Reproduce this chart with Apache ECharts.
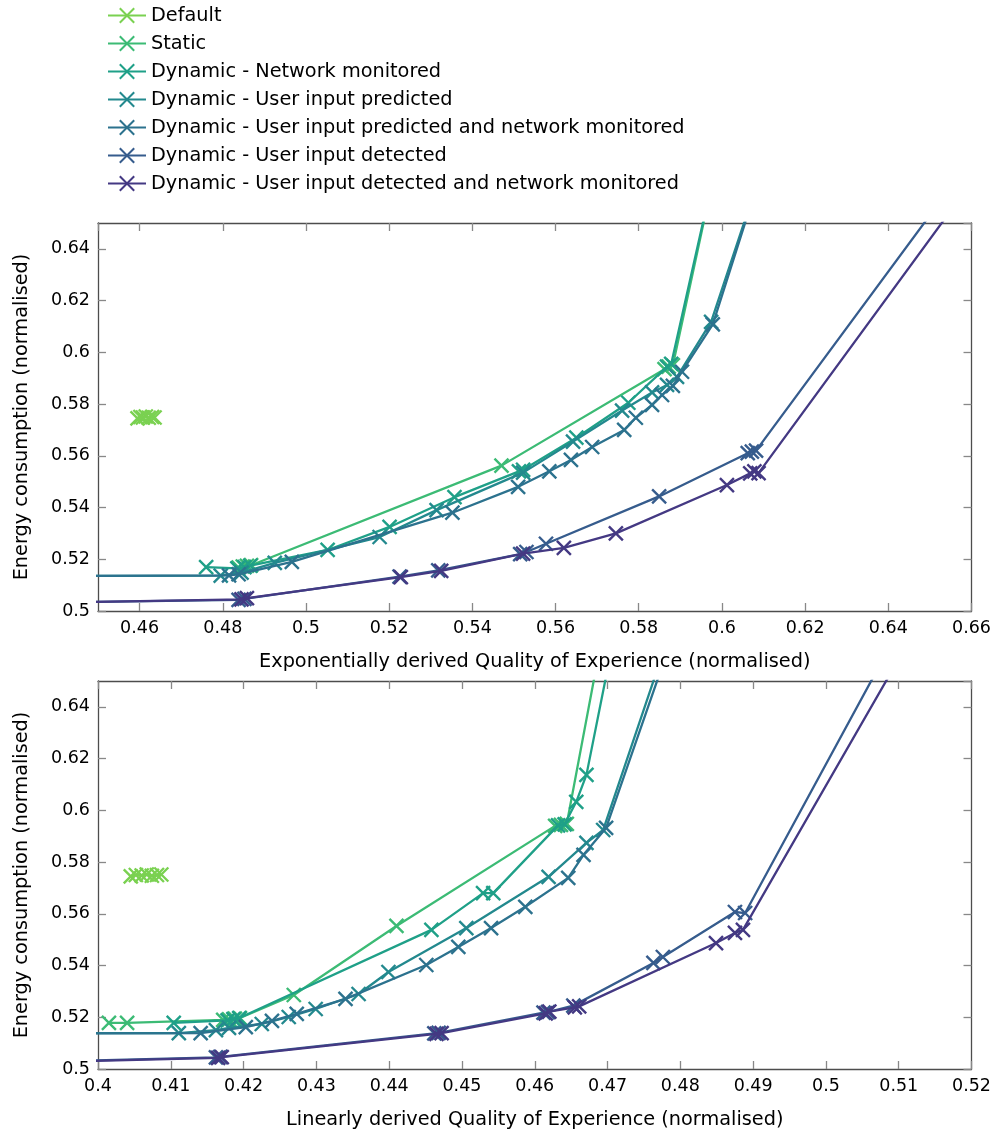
<!DOCTYPE html>
<html>
<head>
<meta charset="utf-8">
<script src="https://cdn.jsdelivr.net/npm/echarts@6/dist/echarts.min.js"></script>
<style>html,body{margin:0;padding:0;background:#fff}#c{width:994px;height:1134px}</style>
</head>
<body>
<div id="c"></div>
<script>
// ---- Data ----
const seriesNames = ['Default','Static','Dynamic - Network monitored','Dynamic - User input predicted',
  'Dynamic - User input predicted and network monitored','Dynamic - User input detected',
  'Dynamic - User input detected and network monitored'];
const seriesColors = ['#7ad151','#3cbb75','#1fa088','#23898e','#2c728e','#365c8d','#443983'];

const xTitleTop = 'Exponentially derived Quality of Experience (normalised)';
const xTitleBottom = 'Linearly derived Quality of Experience (normalised)';
const yTitle = 'Energy consumption (normalised)';

// Top chart: exponentially derived QoE  [qoe, energy]
const defaultExp = [[0.4595,0.5745],[0.4602,0.575],[0.4608,0.5748],[0.4615,0.5752],[0.4622,0.5747],[0.4630,0.575],[0.4636,0.5748]];
const staticExp = [[0.4838,0.5168],[0.4848,0.5172],[0.4858,0.5175],[0.4868,0.5177],[0.547,0.5562],[0.5862,0.5935],[0.5872,0.5945],[0.5882,0.595],[0.5996,0.68]];
const netExp = [[0.476,0.517],[0.4835,0.5165],[0.4852,0.517],[0.4866,0.5175],[0.5052,0.5236],[0.5201,0.5325],[0.5357,0.544],[0.5512,0.554],[0.5522,0.5546],[0.565,0.567],[0.5775,0.5805],[0.5868,0.5945],[0.5878,0.5955],[0.5996,0.68]];
const uipExp = [[0.44,0.5135],[0.4795,0.5137],[0.4845,0.5148],[0.4925,0.5186],[0.5177,0.5286],[0.5314,0.539],[0.5522,0.5535],[0.5642,0.5655],[0.576,0.5775],[0.5832,0.5845],[0.5868,0.5874],[0.5892,0.5905],[0.5974,0.6118],[0.6115,0.68]];
const uipNetExp = [[0.44,0.5135],[0.4815,0.5138],[0.4838,0.5142],[0.4966,0.519],[0.5352,0.538],[0.551,0.548],[0.5585,0.554],[0.5637,0.5584],[0.5688,0.5634],[0.5765,0.570],[0.5793,0.5747],[0.5832,0.5797],[0.5856,0.5835],[0.5882,0.587],[0.5904,0.5925],[0.5978,0.6108],[0.6115,0.68]];
const uidExp = [[0.44,0.5033],[0.4838,0.5043],[0.4852,0.5047],[0.5225,0.5133],[0.5318,0.5157],[0.5515,0.522],[0.553,0.5228],[0.5577,0.526],[0.5849,0.5443],[0.6062,0.561],[0.6072,0.5616],[0.6082,0.562],[0.6624,0.68]];
const uidNetExp = [[0.44,0.5033],[0.4845,0.5045],[0.4858,0.505],[0.5228,0.5131],[0.5325,0.5155],[0.5522,0.5222],[0.562,0.5244],[0.5745,0.530],[0.6012,0.5487],[0.6068,0.5532],[0.6078,0.554],[0.6088,0.5533],[0.6665,0.68]];

// Bottom chart: linearly derived QoE  [qoe, energy]
const defaultLin = [[0.4045,0.5745],[0.4052,0.575],[0.406,0.5748],[0.4067,0.5752],[0.4074,0.5747],[0.4081,0.575],[0.4087,0.5752]];
const staticLin = [[0.4015,0.5178],[0.404,0.5178],[0.4172,0.519],[0.418,0.5192],[0.4188,0.5195],[0.4195,0.5197],[0.4269,0.5286],[0.441,0.5553],[0.4628,0.594],[0.4636,0.5944],[0.4644,0.5948],[0.4701,0.68]];
const netLin = [[0.4104,0.5178],[0.4178,0.5188],[0.4186,0.5193],[0.4194,0.5197],[0.4458,0.5538],[0.4529,0.568],[0.4543,0.568],[0.4632,0.5942],[0.4641,0.5946],[0.4657,0.6033],[0.4671,0.6137],[0.4718,0.68]];
const uipLin = [[0.39,0.5139],[0.4111,0.5139],[0.4162,0.515],[0.418,0.5159],[0.4225,0.5174],[0.4262,0.5201],[0.4299,0.5232],[0.4358,0.529],[0.4399,0.5375],[0.4506,0.5545],[0.4619,0.5743],[0.4671,0.5874],[0.4694,0.5924],[0.4799,0.68]];
const uipNetLin = [[0.39,0.5137],[0.4141,0.5139],[0.4203,0.5162],[0.4239,0.5186],[0.4273,0.5213],[0.434,0.5271],[0.4451,0.5402],[0.4495,0.5472],[0.454,0.5545],[0.4587,0.5627],[0.4646,0.5739],[0.4667,0.5828],[0.4698,0.5932],[0.4805,0.68]];
const uidLin = [[0.39,0.5027],[0.4162,0.5045],[0.4168,0.5047],[0.4462,0.5138],[0.4468,0.514],[0.4612,0.5218],[0.4618,0.522],[0.4653,0.5245],[0.4763,0.541],[0.4776,0.5433],[0.4875,0.5607],[0.4889,0.5603],[0.512,0.68]];
const uidNetLin = [[0.39,0.5025],[0.4165,0.5043],[0.417,0.5046],[0.4465,0.5136],[0.4472,0.5139],[0.4615,0.5215],[0.462,0.5222],[0.4655,0.5238],[0.4661,0.5242],[0.4849,0.5487],[0.4875,0.5526],[0.4886,0.5538],[0.5144,0.68]];

const topData = [defaultExp, staticExp, netExp, uipExp, uipNetExp, uidExp, uidNetExp];
const bottomData = [defaultLin, staticLin, netLin, uipLin, uipNetLin, uidLin, uidNetLin];

// ---- Chart ----
const FONT = 'DejaVu Sans';
const AX = '#4d4d4d';
const TICK = '#888';
const fmt = v => String(+(+v).toFixed(2));
const X_SYMBOL = 'path://M0,0L10,10M10,0L0,10';
const LABEL_SIZE = 17.5;
const NAME_SIZE = 19.3;

function baseAxis(extra) {
  return Object.assign({
    type: 'value',
    axisLine: { show: true, onZero: false, lineStyle: { color: AX, width: 1.3 } },
    axisTick: { show: true, inside: true, length: 8, lineStyle: { color: TICK, width: 1.3 } },
    splitLine: { show: false },
    axisLabel: { color: '#000', fontFamily: FONT, fontSize: LABEL_SIZE, margin: 8, formatter: fmt },
    nameTextStyle: { color: '#000', fontFamily: FONT, fontSize: NAME_SIZE }
  }, extra);
}

const xAxes = [
  baseAxis({ gridIndex: 0, position: 'bottom', min: 0.45, max: 0.66, splitNumber: 10,
    name: xTitleTop, nameLocation: 'middle', nameGap: 41,
    axisLabel: { color: '#000', fontFamily: FONT, fontSize: LABEL_SIZE, margin: 8, formatter: fmt, showMinLabel: false } }),
  baseAxis({ gridIndex: 1, position: 'bottom', min: 0.4, max: 0.52, interval: 0.01,
    name: xTitleBottom, nameLocation: 'middle', nameGap: 41 }),
  baseAxis({ gridIndex: 0, position: 'top', min: 0.45, max: 0.66, splitNumber: 10, axisLabel: { show: false } }),
  baseAxis({ gridIndex: 1, position: 'top', min: 0.4, max: 0.52, interval: 0.01, axisLabel: { show: false } })
];
const yLabel = { color: '#000', fontFamily: FONT, fontSize: LABEL_SIZE, margin: 8, formatter: fmt, showMaxLabel: false };
const yAxes = [
  baseAxis({ gridIndex: 0, position: 'left', min: 0.5, max: 0.65, interval: 0.02,
    name: yTitle, nameLocation: 'middle', nameGap: 67, axisLabel: yLabel }),
  baseAxis({ gridIndex: 1, position: 'left', min: 0.5, max: 0.65, interval: 0.02,
    name: yTitle, nameLocation: 'middle', nameGap: 67, axisLabel: yLabel }),
  baseAxis({ gridIndex: 0, position: 'right', min: 0.5, max: 0.65, interval: 0.02, axisLabel: { show: false } }),
  baseAxis({ gridIndex: 1, position: 'right', min: 0.5, max: 0.65, interval: 0.02, axisLabel: { show: false } })
];

const series = [];
[topData, bottomData].forEach((set, gi) => {
  set.forEach((data, i) => {
    const c = seriesColors[i];
    series.push({
      type: 'line', name: seriesNames[i], data: data,
      xAxisIndex: gi, yAxisIndex: gi, clip: true,
      symbol: X_SYMBOL, symbolSize: 14, showAllSymbol: true,
      itemStyle: { color: c, borderColor: c, borderWidth: 2.4 },
      lineStyle: { color: c, width: 2.3 },
      emphasis: { disabled: true }, animation: false, z: 2 + i
    });
  });
});

const chart = echarts.init(document.getElementById('c'), null, { renderer: 'canvas' });
chart.setOption({
  backgroundColor: '#fff',
  animation: false,
  legend: {
    data: seriesNames, orient: 'vertical', left: 102, top: 1,
    itemWidth: 38, itemHeight: 18, itemGap: 9,
    textStyle: { color: '#000', fontFamily: FONT, fontSize: NAME_SIZE },
    selectedMode: false
  },
  grid: [
    { left: 98, right: 21, top: 223, height: 388 },
    { left: 98, right: 21, top: 681, height: 388 }
  ],
  xAxis: xAxes,
  yAxis: yAxes,
  series: series
});
</script>
</body>
</html>
